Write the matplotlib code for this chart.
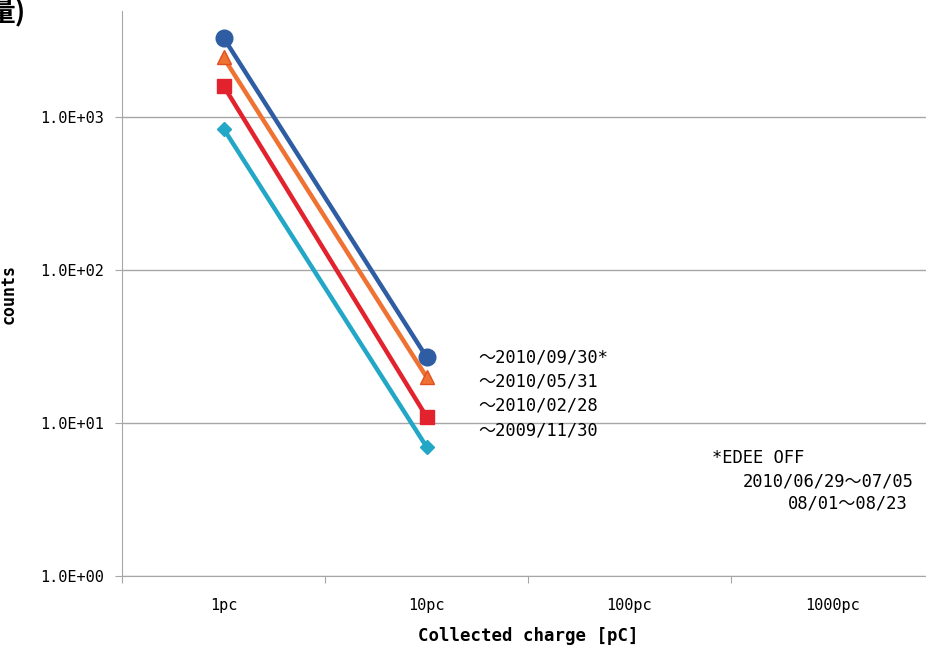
import numpy as np
import matplotlib
matplotlib.use('Agg')
import matplotlib.pyplot as plt
from matplotlib.ticker import FixedLocator, NullLocator

plt.rcParams['font.family'] = ['DejaVu Sans Mono', 'Noto Sans CJK JP']

# data
charges = ['1pc', '10pc', '100pc', '1000pc']
until_0930 = [3300, 27]      # ~2010/09/30*
until_0531 = [2450, 20]      # ~2010/05/31
until_0228 = [1600, 11]      # ~2010/02/28
until_1130 = [840, 7.0]      # ~2009/11/30
series_names = ['～2010/09/30*', '～2010/05/31', '～2010/02/28', '～2009/11/30']
ytick_vals = [1, 10, 100, 1000]
ytick_labels = ['1.0E+00', '1.0E+01', '1.0E+02', '1.0E+03']

fig = plt.figure(figsize=(9.26, 6.48), dpi=100)
# plot area runs past the right edge of the (cropped) picture
ax = fig.add_axes([122 / 926, 72 / 648, 812 / 926, 565 / 648])

x = np.arange(2)
ax.plot(x, until_0930, '-o', color='#2F5DA3', lw=3.2, ms=12, zorder=6)
ax.plot(x, until_0531, '-^', color='#F07233', lw=3.2, ms=10, mec='#E05020', zorder=5)
ax.plot(x, until_0228, '-s', color='#E2232E', lw=3.2, ms=10, zorder=4)
ax.plot(x, until_1130, '-D', color='#23A7C7', lw=3.2, ms=7, zorder=3)

ax.set_yscale('log')
ax.set_ylim(1, 4930)
ax.set_xlim(-0.5, 3.5)

ax.yaxis.set_major_locator(FixedLocator(ytick_vals))
ax.yaxis.set_minor_locator(NullLocator())
ax.set_yticklabels(ytick_labels, fontsize=11)
ax.grid(axis='y', color='#a6a6a6', lw=1)
ax.set_axisbelow(True)

# category labels centered, tick marks between categories
ax.set_xticks(np.arange(-0.5, 4, 1))
ax.set_xticklabels([])
ax.set_xticks(np.arange(len(charges)), minor=True)
ax.set_xticklabels(charges, minor=True, fontsize=11)
ax.tick_params(axis='x', which='minor', length=0, pad=16)
ax.tick_params(axis='x', which='major', length=5, color='#a6a6a6')
ax.tick_params(axis='y', length=5, color='#a6a6a6', pad=8)

for s in ['top', 'right']:
    ax.spines[s].set_visible(False)
for s in ['left', 'bottom']:
    ax.spines[s].set_color('#a6a6a6')

ax.set_xlabel('Collected charge [pC]', fontweight='bold', fontsize=12.5,
              labelpad=10)
ax.set_ylabel('counts', fontweight='bold', fontsize=12)
ax.yaxis.set_label_coords(-104 / 812, 0.5)

# legend-like labels next to the 10pc points
for i, name in enumerate(series_names):
    fig.text(478 / 926, 1 - (357 + 24.5 * i) / 648, name, fontsize=12.3,
             va='center', ha='left')

fig.text(712 / 926, 1 - 458 / 648, '*EDEE OFF', fontsize=12.3, va='center')
fig.text(743 / 926, 1 - 481 / 648, '2010/06/29～07/05', fontsize=12.3, va='center')
fig.text(788 / 926, 1 - 504 / 648, '08/01～08/23', fontsize=12.3, va='center')

# cut-off title remnant at top-left
fig.text(26 / 926, 1 - 26 / 648, '量)', fontsize=20, fontweight='bold',
         family=['Noto Sans CJK JP'], ha='right', va='bottom')

fig.savefig('out.png', dpi=100)
